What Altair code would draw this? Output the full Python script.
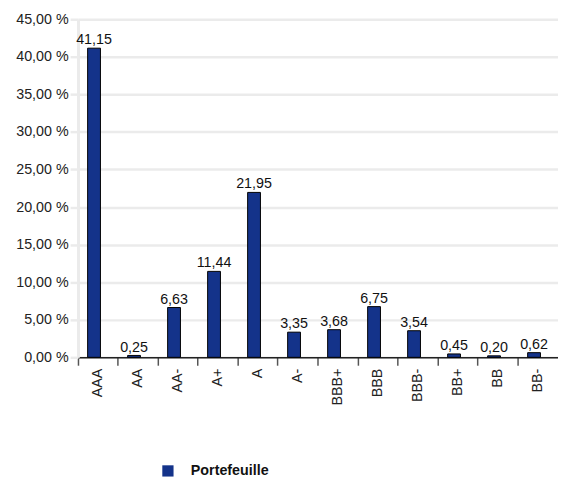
import altair as alt
import pandas as pd

ratings = ["AAA", "AA", "AA-", "A+", "A", "A-", "BBB+", "BBB", "BBB-", "BB+", "BB", "BB-"]
values = [41.15, 0.25, 6.63, 11.44, 21.95, 3.35, 3.68, 6.75, 3.54, 0.45, 0.20, 0.62]
series = "Portefeuille"

df = pd.DataFrame({"rating": ratings, "value": values, "serie": [series] * len(ratings)})
df["label"] = [f"{v:.2f}".replace(".", ",") for v in values]

FONT = "Liberation Sans"
FS = 14.5

x = alt.X("rating:N", sort=ratings, title=None,
          scale=alt.Scale(paddingInner=0, paddingOuter=0),
          axis=alt.Axis(labelAngle=-90, labelFontSize=FS, labelColor="#222", labelFont=FONT,
                        domainColor="#222", domainWidth=1.5, tickColor="#555", tickWidth=1.5,
                        tickSize=8, bandPosition=0, labelPadding=3, grid=False))

y = alt.Y("value:Q", title=None,
          scale=alt.Scale(domain=[0, 45], nice=False),
          axis=alt.Axis(values=[0, 5, 10, 15, 20, 25, 30, 35, 40, 45],
                        labelExpr="replace(format(datum.value, '.2f'), '.', ',') + ' %'",
                        labelOverlap=False,
                        labelFontSize=FS, labelColor="#222", labelFont=FONT,
                        gridColor="#ebebeb", gridWidth=2.5, tickColor="#ebebeb", tickWidth=2.5,
                        tickSize=8, domainColor="#ebebeb", domainWidth=3, labelPadding=2))

base = alt.Chart(df).encode(x=x, y=y)

bars = base.mark_bar(width=13, xOffset=-4, stroke="#000", strokeWidth=1).encode(
    color=alt.Color("serie:N", title=None,
                    scale=alt.Scale(domain=[series], range=["#14338a"]),
                    legend=alt.Legend(orient="none", legendX=84, legendY=451, symbolType="square",
                                      symbolSize=130, symbolStrokeWidth=0, labelFontSize=FS,
                                      labelFontWeight="bold", labelFont=FONT, labelColor="#111",
                                      labelOffset=16, labelLimit=200)),
)

text = base.mark_text(baseline="bottom", dy=-1, xOffset=-4, fontSize=FS, font=FONT, color="#111").encode(
    text="label:N",
)

chart = (bars + text).properties(
    width=487, height=343,
    autosize=alt.AutoSizeParams(type="none"),
    padding={"left": 71, "top": 8, "right": 0, "bottom": 118},
).configure_view(stroke=None)

chart.save("out.html", embed_options={"renderer": "svg", "actions": False})
